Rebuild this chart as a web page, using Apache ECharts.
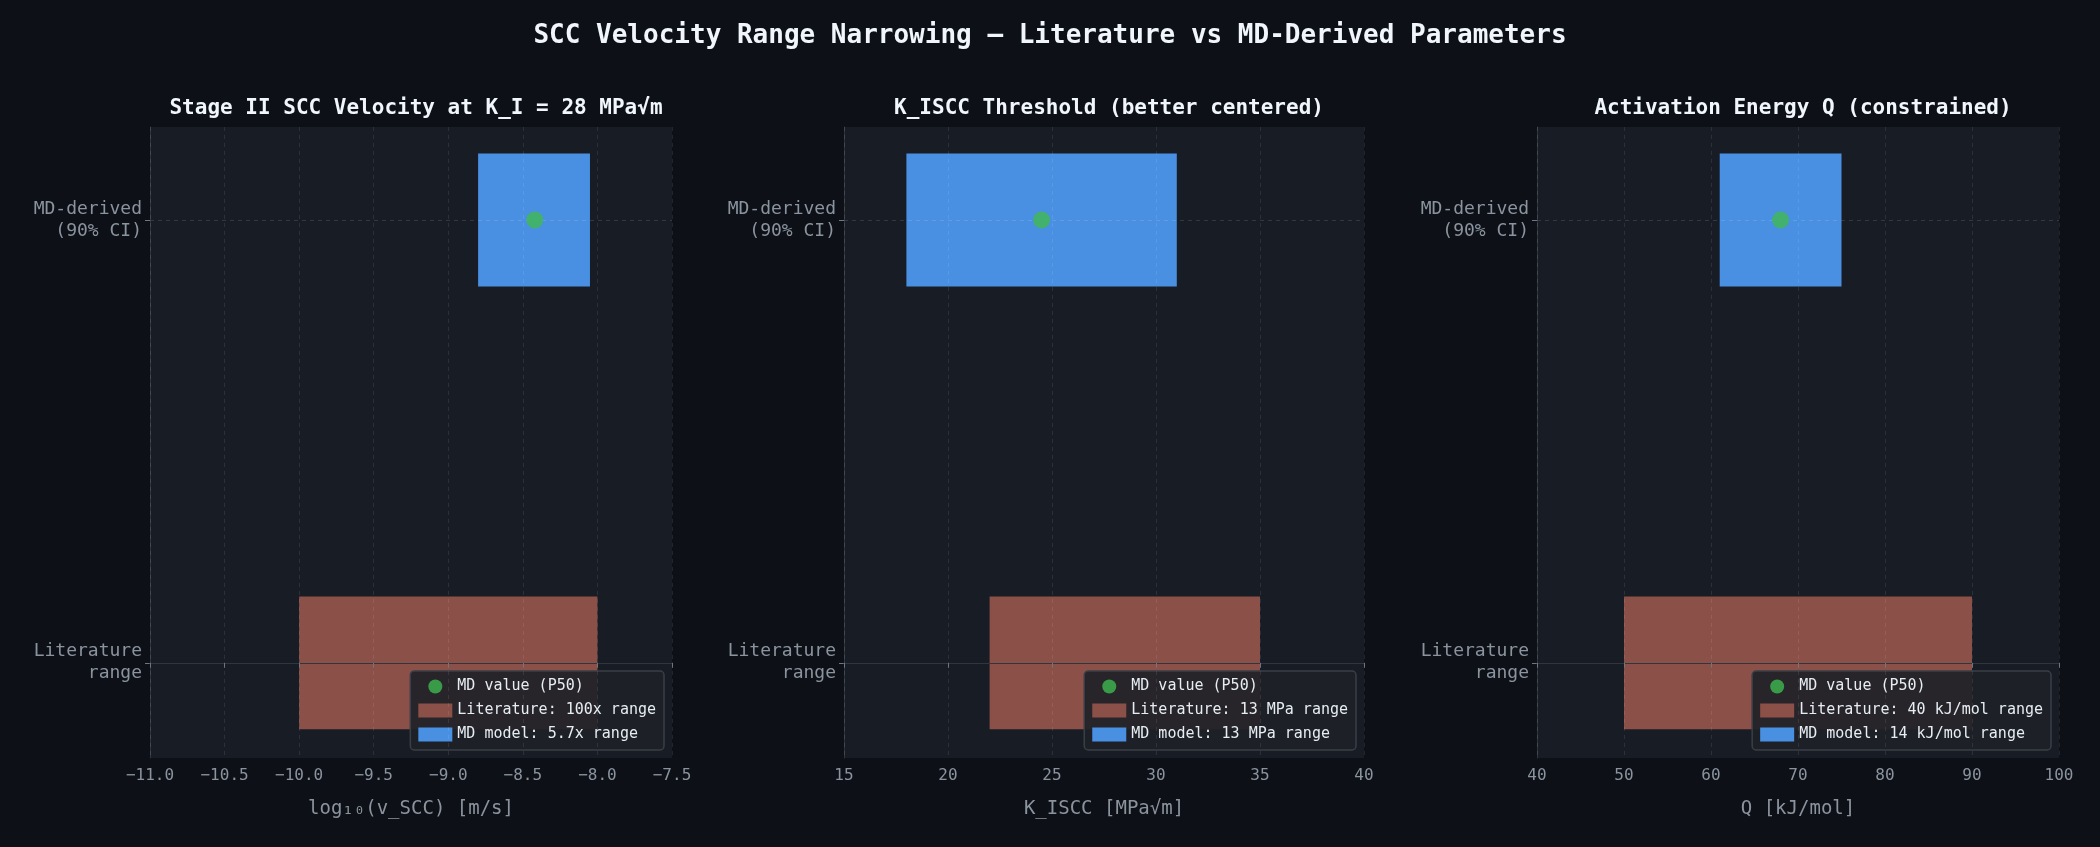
<!DOCTYPE html>
<html><head><meta charset="utf-8">
<script src="https://cdn.jsdelivr.net/npm/echarts@6/dist/echarts.min.js"></script>
<style>html,body{margin:0;background:#0d1117;}#c{width:2100px;height:847px;}</style>
</head><body><div id="c"></div>
<script>
const panelTitles = ['Stage II SCC Velocity at K_I = 28 MPa√m', 'K_ISCC Threshold (better centered)', 'Activation Energy Q (constrained)'];
const axisNames = ['log₁₀(v_SCC) [m/s]', 'K_ISCC [MPa√m]', 'Q [kJ/mol]'];
const xMin = [-11, 15, 40];
const xMax = [-7.5, 40, 100];
const xInterval = [0.5, 5, 10];
const litRange = [[-10, -8], [22, 35], [50, 90]];
const mdRange = [[-8.8, -8.05], [18, 31], [61, 75]];
const mdValue = [-8.42, 24.5, 68];
const litNames = ['Literature: 100x range', 'Literature: 13 MPa range', 'Literature: 40 kJ/mol range'];
const mdNames = ['MD model: 5.7x range', 'MD model: 13 MPa range', 'MD model: 14 kJ/mol range'];
const rowLabels = ['Literature\nrange', 'MD-derived\n(90% CI)'];

const FONT = 'DejaVu Sans Mono';
const lefts = [150, 844, 1537], widths = [522, 520, 522];
const grids = [], xAxes = [], yAxes = [], series = [], legends = [], titles = [];
titles.push({text: 'SCC Velocity Range Narrowing — Literature vs MD-Derived Parameters', left: 'center', top: 18,
  textStyle: {color: '#f0f6fc', fontFamily: FONT, fontSize: 26, fontWeight: 'bold'}});
function rectItem(color) {
  return function (params, api) {
    const p0 = api.coord([api.value(0), api.value(2) + 0.15]);
    const p1 = api.coord([api.value(1), api.value(2) - 0.15]);
    return {type: 'rect', shape: {x: p0[0], y: p0[1], width: p1[0] - p0[0], height: p1[1] - p0[1]}, style: {fill: color}};
  };
}
for (let i = 0; i < 3; i++) {
  grids.push({left: lefts[i], width: widths[i], top: 127, height: 631, show: true, backgroundColor: '#181c24', borderWidth: 0});
  titles.push({text: panelTitles[i], left: lefts[i] + widths[i] / 2, textAlign: 'center', top: 93,
    textStyle: {color: '#f0f6fc', fontFamily: FONT, fontSize: 21, fontWeight: 'bold'}});
  xAxes.push({type: 'value', gridIndex: i, min: xMin[i], max: xMax[i], interval: xInterval[i], z: 6,
    name: axisNames[i], nameLocation: 'middle', nameGap: 42,
    nameTextStyle: {color: '#8b949e', fontFamily: FONT, fontSize: 19},
    axisLine: {show: true, lineStyle: {color: '#30363d'}}, axisTick: {show: true, lineStyle: {color: '#6e7681'}},
    axisLabel: {color: '#8b949e', fontFamily: FONT, fontSize: 16, margin: 10,
      formatter: v => i === 0 ? v.toFixed(1).replace('-', '−') : String(v)},
    splitLine: {show: true, lineStyle: {color: 'rgba(255,255,255,0.09)', type: [4, 4]}}});
  yAxes.push({type: 'value', gridIndex: i, min: -0.215, max: 1.21,
    axisLine: {show: true, lineStyle: {color: '#30363d'}},
    axisTick: {show: true, customValues: [0, 1], lineStyle: {color: '#6e7681'}},
    axisLabel: {show: true, customValues: [0, 1], formatter: v => rowLabels[Math.round(v)], color: '#8b949e', fontFamily: FONT, fontSize: 18, lineHeight: 22, align: 'right'},
    splitLine: {show: false}});
  series.push({name: litNames[i], type: 'custom', xAxisIndex: i, yAxisIndex: i, z: 2, itemStyle: {color: '#8b5048'},
    encode: {x: [0, 1], y: 2}, renderItem: rectItem('#8b5048'), data: [[litRange[i][0], litRange[i][1], 0]]});
  series.push({name: mdNames[i], type: 'custom', xAxisIndex: i, yAxisIndex: i, z: 2, itemStyle: {color: '#4a90e2'},
    encode: {x: [0, 1], y: 2}, renderItem: rectItem('#4a90e2'), data: [[mdRange[i][0], mdRange[i][1], 1]]});
  series.push({name: 'MD value (P50)', type: 'scatter', xAxisIndex: i, yAxisIndex: i, z: 8, symbolSize: 17,
    itemStyle: {color: '#3fb950'}, data: [[mdValue[i], 1]],
    markLine: {silent: true, symbol: 'none', label: {show: false}, lineStyle: {color: 'rgba(255,255,255,0.12)', type: [4, 4], width: 1},
      data: [{yAxis: 0}, {yAxis: 1}]}});
  legends.push({orient: 'vertical', right: 2100 - lefts[i] - widths[i] + 8, bottom: 847 - 758 + 8,
    data: [{name: 'MD value (P50)', icon: 'circle'}, {name: litNames[i], icon: 'rect'}, {name: mdNames[i], icon: 'rect'}],
    backgroundColor: 'rgba(30,34,40,0.92)', borderColor: '#3a3f47', borderWidth: 1.5, borderRadius: 4,
    padding: [8, 8, 8, 8], itemGap: 9, itemWidth: 34, itemHeight: 14, selectedMode: false,
    textStyle: {color: '#e6edf3', fontFamily: FONT, fontSize: 15}});
}
const chart = echarts.init(document.getElementById('c'));
chart.setOption({backgroundColor: '#0d1117', animation: false, title: titles, grid: grids, xAxis: xAxes, yAxis: yAxes, legend: legends, series: series});
</script></body></html>
